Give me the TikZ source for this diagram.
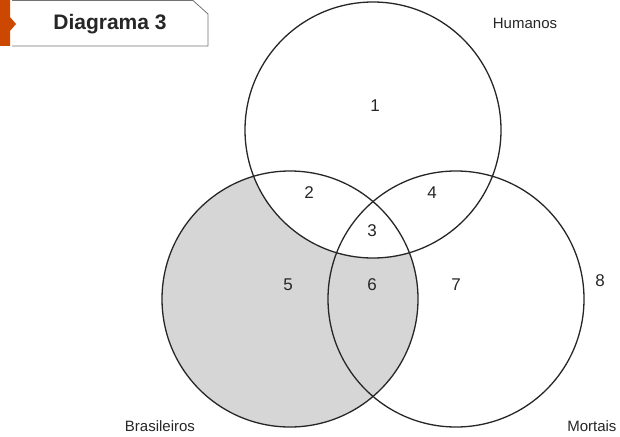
\documentclass[tikz,border=0pt]{standalone}
\usepackage{fontspec}
\setmainfont{Liberation Sans}
\begin{document}
\begin{tikzpicture}[x=1pt,y=-1pt,
  circ/.style={draw=black!85,line width=1.3pt},
  lbl/.style={font=\fontsize{15}{18}\selectfont,text=black!85},
  num/.style={font=\fontsize{17}{20}\selectfont,text=black!85}]
\useasboundingbox (0,0) rectangle (620,436);
% shading: Brasileiros minus Humanos
\fill[black!16] (290,299) circle (128);
\fill[white] (373,130) circle (128);
\draw[circ] (373,130) circle (128) coordinate (H);
\draw[circ] (290,299) circle (128) coordinate (B);
\draw[circ] (456,299) circle (128) coordinate (M);
% title
\draw[black!55,line width=0.8pt,fill=white] (12,0.5) -- (193,0.5) -- (208,14) -- (208,46) -- (12,46);
\fill[orange!70!red!80!black] (0,0) -- (10,0) -- (10,17) -- (16,24) -- (10,31) -- (10,46) -- (0,46) -- cycle;
\node[font=\bfseries\fontsize{21}{24}\selectfont,text=black!85] (title) at (110,24) {Diagrama 3};
\node[lbl] (hum) at (525,23) {Humanos};
\node[lbl] (bra) at (160,426) {Brasileiros};
\node[lbl,anchor=east] (mor) at (620,426) {Mortais};
\node[num] (n1) at (375,106) {1};
\node[num] (n2) at (309,193) {2};
\node[num] (n3) at (372,231) {3};
\node[num] (n4) at (432,193) {4};
\node[num] (n5) at (288,285) {5};
\node[num] (n6) at (372,285) {6};
\node[num] (n7) at (456,285) {7};
\node[num] (n8) at (600,281) {8};
\end{tikzpicture}
\end{document}
